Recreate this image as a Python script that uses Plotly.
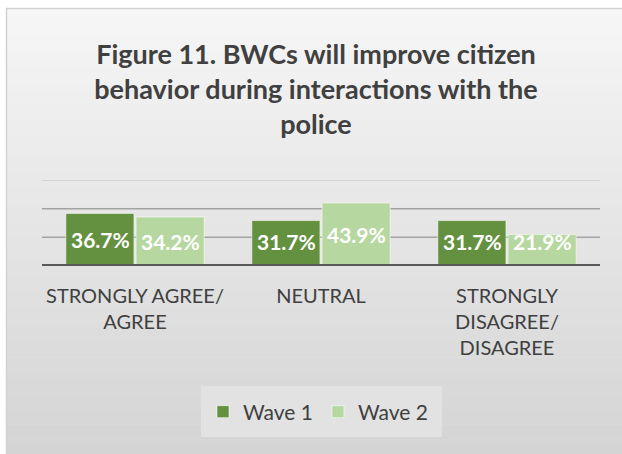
import plotly.graph_objects as go

# Survey responses, percent of officers
categories = ["STRONGLY AGREE/<br>AGREE", "NEUTRAL", "STRONGLY<br>DISAGREE/<br>DISAGREE"]
wave1 = [36.7, 31.7, 31.7]
wave2 = [34.2, 43.9, 21.9]
series_names = ["Wave 1", "Wave 2"]
grid_values = [20, 40, 60]

W, H = 622, 454
L, R, T, B = 42, 22, 180, 188
PW, PH = W - L - R, H - T - B

DARK = "#64913f"
LIGHT = "#b6d8a0"
TEXT = "#404040"
FONT = "Lato, 'Open Sans', sans-serif"


def paper_x(px):
    return (px - L) / PW


def paper_y(py):
    return (H - B - py) / PH


fig = go.Figure()
for name, vals, col in [(series_names[0], wave1, DARK), (series_names[1], wave2, LIGHT)]:
    fig.add_trace(go.Bar(
        name=name, x=categories, y=vals,
        marker=dict(color=col, line=dict(color="rgba(255,255,255,0.55)", width=1)),
        hoverinfo="skip",
    ))

shapes = []
# white page edge, then the grey chart panel with a vertical gradient
top_c, bot_c = (246, 246, 246), (212, 212, 212)
y0_px, y1_px = 8, H
n = 60
for i in range(n):
    a = y0_px + (y1_px - y0_px) * i / n
    b = y0_px + (y1_px - y0_px) * (i + 1) / n
    t = (i + 0.5) / n
    c = tuple(round(top_c[k] + (bot_c[k] - top_c[k]) * t) for k in range(3))
    shapes.append(dict(type="rect", xref="paper", yref="paper", layer="below",
                       x0=paper_x(6), x1=paper_x(W + 2), y0=paper_y(b + 0.5), y1=paper_y(a),
                       fillcolor="rgb(%d,%d,%d)" % c, line=dict(width=0)))
shapes.append(dict(type="rect", xref="paper", yref="paper", layer="below",
                   x0=paper_x(6.5), x1=paper_x(W + 4), y0=paper_y(H + 4), y1=paper_y(8.5),
                   fillcolor="rgba(0,0,0,0)", line=dict(color="#d2d2d2", width=1.5)))

# legend panel
shapes.append(dict(type="rect", xref="paper", yref="paper", layer="below",
                   x0=paper_x(201), x1=paper_x(442), y0=paper_y(437), y1=paper_y(386),
                   fillcolor="#e2e2e2", line=dict(width=0)))

# horizontal gridlines
grid_colors = ["#a3a3a3", "#a3a3a3", "#cdcdcd"]
for gv, gc in zip(grid_values, grid_colors):
    shapes.append(dict(type="line", xref="paper", yref="y", layer="below",
                       x0=0, x1=1, y0=gv, y1=gv, line=dict(color=gc, width=1.5)))

# category axis baseline
shapes.append(dict(type="line", xref="paper", yref="y", layer="above",
                   x0=0, x1=1, y0=0, y1=0, line=dict(color="#595959", width=4)))

# value labels inside the bars, kept clear of the baseline for short bars
annotations = []
for vals, shift in [(wave1, -35), (wave2, 35)]:
    for cat, v in zip(categories, vals):
        annotations.append(dict(
            x=cat, y=max(v / 2, 17), xref="x", yref="y", xshift=shift,
            text="%.1f%%" % v, showarrow=False,
            font=dict(family=FONT, size=21, color="white", weight="bold"),
        ))

fig.update_layout(
    width=W, height=H,
    margin=dict(l=L, r=R, t=T, b=B, pad=0),
    paper_bgcolor="white", plot_bgcolor="rgba(0,0,0,0)",
    barmode="group", bargap=0.245, bargroupgap=0.03,
    title=dict(
        text="<b>Figure 11. BWCs will improve citizen<br>behavior during interactions with the<br>police</b>",
        x=316 / W, xanchor="center",
        y=1 - 64 / H, yanchor="top", yref="container",
        font=dict(family=FONT, size=27, color=TEXT),
    ),
    xaxis=dict(showgrid=False, showline=False, ticks="", zeroline=False,
               tickfont=dict(family=FONT, size=20, color=TEXT),
               ticklabelstandoff=16),
    yaxis=dict(range=[0, 60], showgrid=False, zeroline=False,
               showticklabels=False, showline=False),
    legend=dict(orientation="h", x=paper_x(318), xanchor="center",
                y=paper_y(412), yanchor="middle",
                bgcolor="rgba(0,0,0,0)", font=dict(family=FONT, size=21, color=TEXT)),
    shapes=shapes,
    annotations=annotations,
    showlegend=True,
)

fig.write_html("out.html")
